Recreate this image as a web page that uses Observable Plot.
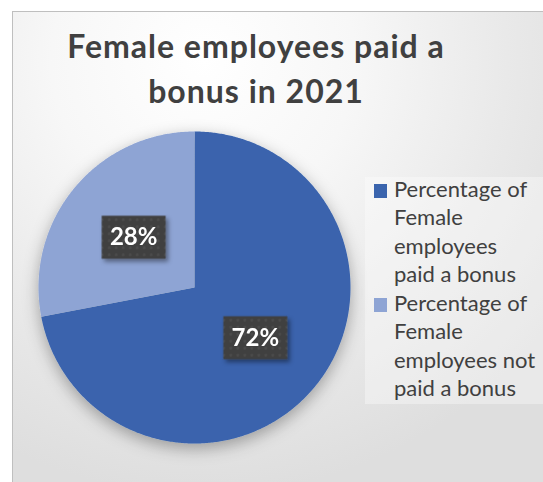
<!DOCTYPE html>
<html><head><meta charset="utf-8">
<script src="https://cdn.jsdelivr.net/npm/d3@7"></script>
<script src="https://cdn.jsdelivr.net/npm/@observablehq/plot@0.6"></script>
<style>
html,body{margin:0;padding:0;background:#fff}
#root{position:relative;width:543px;height:482px;overflow:hidden;background:#fff;font-family:Lato,"Open Sans",sans-serif}
#frame{position:absolute;left:12px;top:11px;width:545px;height:485px;box-sizing:border-box;border:1.5px solid #bfbfbf;
  background:radial-gradient(ellipse 80% 90% at 35% 10%, #ffffff 0%, #f7f7f7 35%, #e9e9e9 70%, #dedede 100%)}
#title{position:absolute;left:36px;width:440px;text-align:center;font-weight:700;color:#404040;white-space:nowrap;letter-spacing:1px}
#legendbg{position:absolute;left:365px;top:177px;width:178px;height:227px;background:rgba(255,255,255,0.35)}
#legend{position:absolute;left:374px;width:165px;color:#404040;font-size:22px;line-height:28.5px}
.item{display:flex;align-items:flex-start}
.sw{width:13.4px;height:13.4px;flex:none;margin-right:6.6px}
.lt{width:150px}
#pie{position:absolute;left:29px;top:122px}
</style></head>
<body><div id="root"><div id="frame"></div><div id="title"></div><div id="legendbg"></div><div id="legend"></div><div id="pie"></div></div>
<script>
const title = ["Female employees paid a", "bonus in 2021"];
const categories = ["Percentage of Female employees paid a bonus", "Percentage of Female employees not paid a bonus"];
const values = [72, 28];
const colors = ["#3A64AD", "#8EA4D4"];

// title
const tfs = 32, tlh = 45;
const tEl = document.getElementById("title");
tEl.style.fontSize = tfs + "px";
tEl.style.lineHeight = tlh + "px";
tEl.style.top = (58.3 - ((tlh - 1.2 * tfs) / 2 + 0.987 * tfs)) + "px";
tEl.innerHTML = title.map(t => `<div>${t}</div>`).join("");

// legend
const lEl = document.getElementById("legend");
const lfs = 22, llh = 28.5;
const baseOff = (llh - 1.2 * lfs) / 2 + 0.987 * lfs;
lEl.style.top = (197.7 - baseOff) + "px";
categories.forEach((c, i) => {
  const it = document.createElement("div");
  it.className = "item";
  const sw = document.createElement("div");
  sw.className = "sw";
  sw.style.background = colors[i];
  sw.style.marginTop = (baseOff - 13.4) + "px";
  const lt = document.createElement("div");
  lt.className = "lt";
  lt.textContent = c;
  it.appendChild(sw); it.appendChild(lt);
  lEl.appendChild(it);
});

// pie geometry from data
const arcs = d3.pie().sort(null).value(d => d)(values);
const pts = [];
arcs.forEach((a, i) => {
  pts.push({k: categories[i], x: 0, y: 0});
  const n = Math.ceil((a.endAngle - a.startAngle) / (Math.PI / 360));
  for (let j = 0; j <= n; j++) {
    const t = a.startAngle + (a.endAngle - a.startAngle) * j / n;
    pts.push({k: categories[i], x: Math.sin(t), y: Math.cos(t)});
  }
  pts.push({k: categories[i], x: 0, y: 0});
});
const lab = arcs.map((a, i) => {
  const m = (a.startAngle + a.endAngle) / 2;
  return {k: categories[i], x: 0.506 * Math.sin(m), y: 0.506 * Math.cos(m), t: values[i] + "%"};
});

const S = 330, R = 156, ext = S / 2 / R;
const boxSymbol = {draw(ctx) { ctx.rect(-32, -21.5, 64, 43); }};
const svg = Plot.plot({
  width: S, height: S, margin: 0,
  style: {background: "transparent", overflow: "visible", fontFamily: "Lato, sans-serif"},
  x: {domain: [-ext, ext], axis: null},
  y: {domain: [-ext, ext], axis: null},
  color: {domain: categories, range: colors},
  marks: [
    Plot.line(pts, {x: "x", y: "y", z: "k", fill: "k", stroke: "none", curve: "linear"}),
    Plot.dot(lab, {x: "x", y: "y", symbol: boxSymbol, r: 30, fill: "url(#dots)", stroke: "none"}),
    Plot.text(lab, {x: "x", y: "y", text: "t", fill: "white", fontSize: 24, fontWeight: 700, dy: 0.5})
  ]
});
svg.insertAdjacentHTML("afterbegin", `<defs>
<filter id="pieShadow" x="-30%" y="-30%" width="160%" height="170%"><feDropShadow dx="0" dy="5" stdDeviation="8" flood-color="#000" flood-opacity="0.32"/></filter>
<filter id="boxShadow" x="-30%" y="-30%" width="170%" height="180%"><feDropShadow dx="2.5" dy="3" stdDeviation="2" flood-color="#000" flood-opacity="0.4"/></filter>
<pattern id="dots" width="7" height="7" patternUnits="userSpaceOnUse"><rect width="7" height="7" fill="#404040"/><rect x="2.5" y="2.5" width="2" height="2" fill="#555"/></pattern>
</defs>`);
const gl = svg.querySelector('g[aria-label="line"]');
if (gl) gl.setAttribute("filter", "url(#pieShadow)");
const gd = svg.querySelector('g[aria-label="dot"]');
if (gd) gd.setAttribute("filter", "url(#boxShadow)");
document.getElementById("pie").appendChild(svg);
</script></body></html>
